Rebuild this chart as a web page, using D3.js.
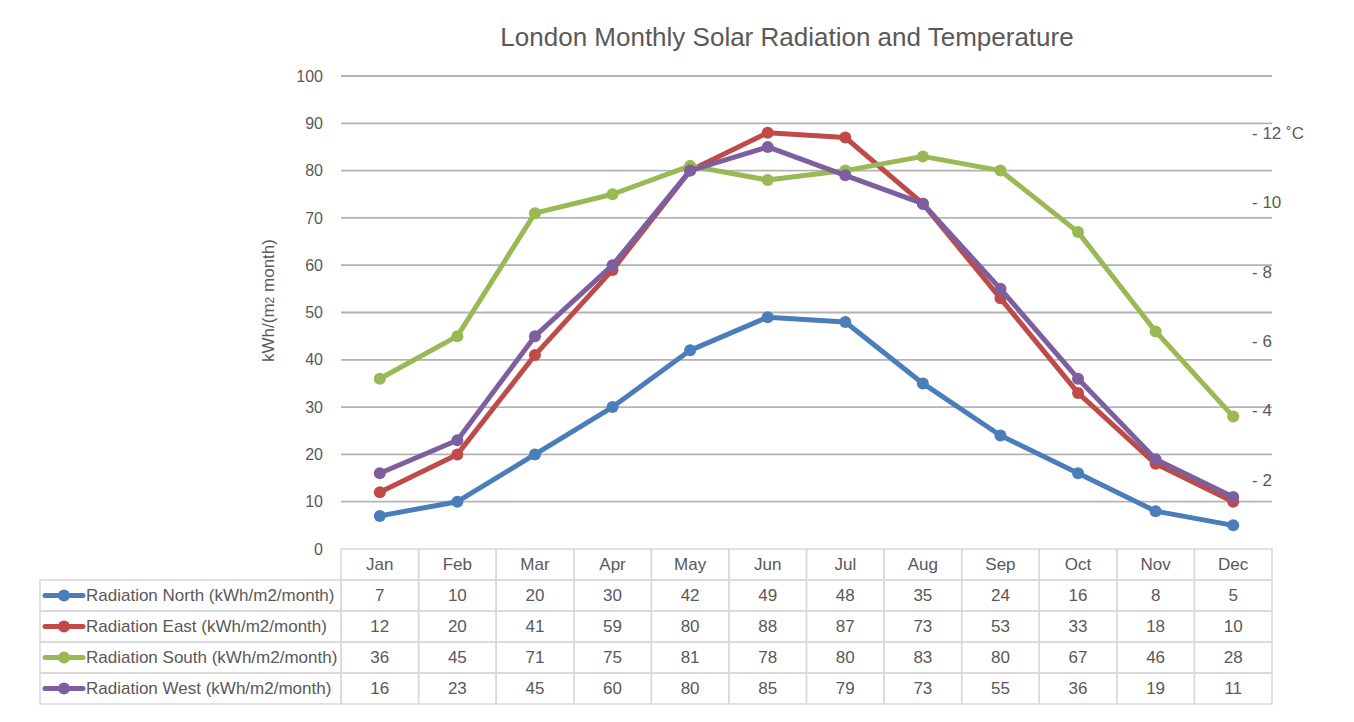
<!DOCTYPE html>
<html>
<head>
<meta charset="utf-8">
<script src="https://cdn.jsdelivr.net/npm/d3@7"></script>
<style>
  body { margin: 0; background: #fff; }
  svg { font-family: "Liberation Sans", Arial, sans-serif; }
</style>
</head>
<body>
<div id="chart"></div>
<script>
//Data
var months = ["Jan", "Feb", "Mar", "Apr", "May", "Jun", "Jul", "Aug", "Sep", "Oct", "Nov", "Dec"];
var seriesNames = [
    "Radiation North (kWh/m2/month)",
    "Radiation East (kWh/m2/month)",
    "Radiation South (kWh/m2/month)",
    "Radiation West (kWh/m2/month)"
];
var north = [7, 10, 20, 30, 42, 49, 48, 35, 24, 16, 8, 5];
var east = [12, 20, 41, 59, 80, 88, 87, 73, 53, 33, 18, 10];
var south = [36, 45, 71, 75, 81, 78, 80, 83, 80, 67, 46, 28];
var west = [16, 23, 45, 60, 80, 85, 79, 73, 55, 36, 19, 11];
var leftTicks = [0, 10, 20, 30, 40, 50, 60, 70, 80, 90, 100];
var rightTicks = [2, 4, 6, 8, 10, 12];
var colors = ["#4a7ebb", "#be4b48", "#98b954", "#7d5fa0"];

var series = [north, east, south, west].map(function (v, i) {
    return { name: seriesNames[i], values: v, color: colors[i] };
});

//Set dimensions
var width = 1354,
        height = 722,
        plotLeft = 341,
        plotRight = 1272,
        plotTop = 76,
        plotBottom = 549,
        rowH = 31,
        tableLeft = 40;

var textColor = "#595959",
        gridColor = "#b3b3b3",
        cellBorder = "#d9d9d9";

//Scales
var x = d3.scaleBand()
        .domain(months)
        .range([plotLeft, plotRight]);

var y = d3.scaleLinear()
        .domain([0, 100])
        .range([plotBottom, plotTop]);

var yRight = d3.scaleLinear()
        .domain([0, 13.65])
        .range([plotBottom, plotTop]);

var svg = d3.select("#chart").append("svg")
        .attr("width", width)
        .attr("height", height);

//Title
svg.append("text")
        .attr("x", 787)
        .attr("y", 46)
        .attr("text-anchor", "middle")
        .style("font-size", "26px")
        .style("fill", textColor)
        .text("London Monthly Solar Radiation and Temperature");

//Gridlines
svg.append("g")
        .selectAll("line")
        .data(leftTicks.filter(function (d) { return d > 0; }))
        .enter().append("line")
        .attr("x1", plotLeft)
        .attr("x2", plotRight)
        .attr("y1", function (d) { return y(d); })
        .attr("y2", function (d) { return y(d); })
        .style("stroke", gridColor)
        .style("stroke-width", 1.8);

//Left axis labels
svg.append("g")
        .selectAll("text")
        .data(leftTicks)
        .enter().append("text")
        .attr("x", 323)
        .attr("y", function (d) { return y(d); })
        .attr("dy", "0.35em")
        .attr("text-anchor", "end")
        .style("font-size", "16px")
        .style("fill", textColor)
        .text(function (d) { return d; });

//Left axis title
var yTitle = svg.append("text")
        .attr("transform", "translate(274," + ((plotTop + plotBottom) / 2 - 12) + ") rotate(-90)")
        .attr("text-anchor", "middle")
        .style("font-size", "17px")
        .style("fill", textColor);
yTitle.append("tspan").text("kWh/(m");
yTitle.append("tspan").style("font-size", "12px").text("2");
yTitle.append("tspan").text(" month)");

//Right axis labels
svg.append("g")
        .selectAll("text")
        .data(rightTicks)
        .enter().append("text")
        .attr("x", 1252)
        .attr("y", function (d) { return yRight(d); })
        .attr("dy", "0.35em")
        .style("font-size", "17px")
        .style("fill", textColor)
        .text(function (d) { return "- " + d + (d === 12 ? " \u02DAC" : ""); });

//Lines and markers
var line = d3.line()
        .x(function (d, i) { return x(months[i]) + x.bandwidth() / 2; })
        .y(function (d) { return y(d); });

var groups = svg.selectAll(".series")
        .data(series)
        .enter().append("g")
        .attr("class", "series");

groups.append("path")
        .attr("d", function (d) { return line(d.values); })
        .style("fill", "none")
        .style("stroke", function (d) { return d.color; })
        .style("stroke-width", 5)
        .style("stroke-linejoin", "round");

groups.each(function (s) {
    d3.select(this).selectAll("circle")
            .data(s.values)
            .enter().append("circle")
            .attr("cx", function (d, i) { return x(months[i]) + x.bandwidth() / 2; })
            .attr("cy", function (d) { return y(d); })
            .attr("r", 6)
            .style("fill", s.color);
});

//Data table
var table = svg.append("g");
var rowY = function (r) { return plotBottom + r * rowH; };

//Header cells
table.selectAll(".head")
        .data(months)
        .enter().append("rect")
        .attr("x", function (d) { return x(d); })
        .attr("y", rowY(0))
        .attr("width", x.bandwidth())
        .attr("height", rowH)
        .style("fill", "none")
        .style("stroke", cellBorder)
        .style("stroke-width", 1.5);

table.selectAll(".headText")
        .data(months)
        .enter().append("text")
        .attr("x", function (d) { return x(d) + x.bandwidth() / 2; })
        .attr("y", rowY(0) + rowH / 2)
        .attr("dy", "0.35em")
        .attr("text-anchor", "middle")
        .style("font-size", "17px")
        .style("fill", textColor)
        .text(function (d) { return d; });

//Series rows
var rows = table.selectAll(".row")
        .data(series)
        .enter().append("g")
        .attr("transform", function (d, i) { return "translate(0," + rowY(i + 1) + ")"; });

rows.append("rect")
        .attr("x", tableLeft)
        .attr("y", 0)
        .attr("width", plotLeft - tableLeft)
        .attr("height", rowH)
        .style("fill", "none")
        .style("stroke", cellBorder)
        .style("stroke-width", 1.5);

rows.append("line")
        .attr("x1", 45)
        .attr("x2", 83)
        .attr("y1", rowH / 2)
        .attr("y2", rowH / 2)
        .style("stroke", function (d) { return d.color; })
        .style("stroke-width", 5)
        .style("stroke-linecap", "round");

rows.append("circle")
        .attr("cx", 64)
        .attr("cy", rowH / 2)
        .attr("r", 6)
        .style("fill", function (d) { return d.color; });

rows.append("text")
        .attr("x", 86)
        .attr("y", rowH / 2)
        .attr("dy", "0.35em")
        .style("font-size", "17px")
        .style("fill", textColor)
        .text(function (d) { return d.name; });

rows.each(function (s) {
    var g = d3.select(this);
    g.selectAll(".cell")
            .data(s.values)
            .enter().append("rect")
            .attr("x", function (d, i) { return x(months[i]); })
            .attr("y", 0)
            .attr("width", x.bandwidth())
            .attr("height", rowH)
            .style("fill", "none")
            .style("stroke", cellBorder)
            .style("stroke-width", 1.5);
    g.selectAll(".val")
            .data(s.values)
            .enter().append("text")
            .attr("x", function (d, i) { return x(months[i]) + x.bandwidth() / 2; })
            .attr("y", rowH / 2)
            .attr("dy", "0.35em")
            .attr("text-anchor", "middle")
            .style("font-size", "17px")
            .style("fill", textColor)
            .text(function (d) { return d; });
});
</script>
</body>
</html>
